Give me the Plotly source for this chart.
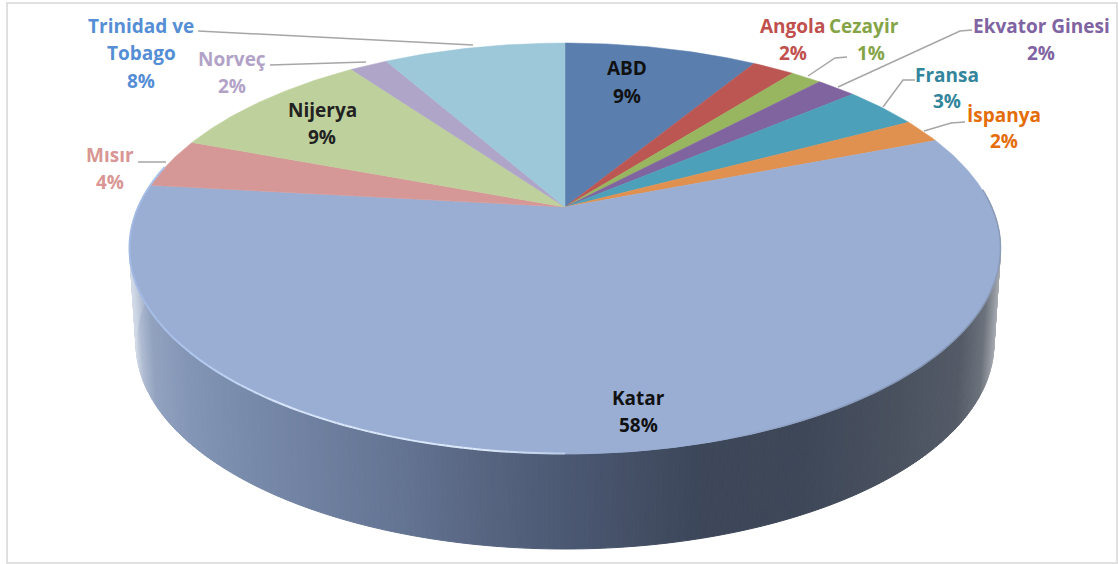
import numpy as np
import plotly.graph_objects as go

# ---- data ----
categories = ["ABD", "Angola", "Cezayir", "Ekvator Ginesi", "Fransa", "İspanya",
              "Katar", "Mısır", "Nijerya", "Norveç", "Trinidad ve Tobago"]
shares = [8.7, 1.9, 1.4, 1.8, 3.4, 1.9, 57.7, 3.9, 9.4, 1.7, 8.2]
slice_colors = ["#5a7fae", "#bb5652", "#98b660", "#80649f", "#4ca0b9", "#e1914f",
                "#9aaed3", "#d69896", "#bed19c", "#afa5c8", "#9cc8d9"]
label_colors = ["#111111", "#c0504d", "#84a447", "#7f63a2", "#31859c", "#e46c0a",
                "#111111", "#d99694", "#222222", "#b2a2c7", "#558ed5"]

# ---- label layout: text lines centred at pixel positions ----
label_pos = {
    "ABD": [("ABD", 627, 68), ("%", 627, 96)],
    "Angola": [("Angola", 792, 26), ("%", 793, 53)],
    "Cezayir": [("Cezayir", 864, 26), ("%", 871, 53)],
    "Ekvator Ginesi": [("Ekvator Ginesi", 1041, 26), ("%", 1041, 53)],
    "Fransa": [("Fransa", 947, 75), ("%", 947, 101)],
    "İspanya": [("İspanya", 1004, 115), ("%", 1004, 141)],
    "Katar": [("Katar", 638, 398), ("%", 638, 425)],
    "Mısır": [("Mısır", 110, 155), ("%", 110, 182)],
    "Nijerya": [("Nijerya", 322, 110), ("%", 322, 137)],
    "Norveç": [("Norveç", 232, 59), ("%", 232, 86)],
    "Trinidad ve Tobago": [("Trinidad ve", 141, 26), ("Tobago", 141, 53), ("%", 141, 81)],
}
leaders = [
    [(198, 31), (473, 45)],
    [(270, 65), (366, 62)],
    [(138, 162), (166, 162)],
    [(847, 57), (835, 58), (808, 76)],
    [(972, 30), (960, 31), (838, 87)],
    [(915, 80), (903, 80), (883, 107)],
    [(965, 122), (951, 123), (924, 131)],
]

# ---- projection of the tilted disc ----
CX, CY = 565.0, 207.0
A, B, K = 426.5, 197.1, 0.202


def rim(theta):
    u, v = np.sin(theta), np.cos(theta)
    d = 1 + K * v
    return CX + A * u / d, CY - B * v / d


def lower_rim(theta):
    x, y = rim(theta)
    return CX + (x - CX) * 0.985, y + 95


def ramp(stops, x):
    xs = [s[0] for s in stops]
    return "rgb(%d,%d,%d)" % tuple(np.interp(x, xs, [s[1][i] for s in stops]) for i in range(3))


side_stops = [
    (129, (214, 222, 234)), (137, (176, 188, 210)), (150, (146, 163, 192)), (185, (132, 150, 182)),
    (250, (120, 138, 170)), (400, (100, 116, 147)), (480, (88, 102, 130)), (565, (76, 89, 115)),
    (700, (61, 71, 90)), (800, (62, 71, 88)), (900, (74, 82, 96)), (960, (84, 91, 103)),
    (985, (108, 114, 124)), (1000, (170, 174, 180)),
]
highlight_stops = [
    (129, (160, 184, 226)), (200, (178, 202, 240)), (280, (215, 229, 250)), (480, (222, 234, 250)),
    (560, (188, 206, 234)), (640, (155, 174, 212)),
]
right_edge_stops = [
    (700, (154, 174, 211)), (850, (140, 158, 190)), (950, (130, 148, 178)), (1000, (140, 156, 184)),
]

fig = go.Figure()

# side wall of the largest slice (front half of the disc)
edges = np.radians(np.linspace(-93, 93, 301) + 180)
for a, b in zip(edges[:-1], edges[1:]):
    x0, y0 = rim(a)
    x1, y1 = rim(b)
    x2, y2 = lower_rim(b)
    x3, y3 = lower_rim(a)
    col = ramp(side_stops, (x0 + x1) / 2)
    fig.add_trace(go.Scatter(x=[x0, x1, x2, x3, x0], y=[y0, y1, y2, y3, y0], mode="lines",
                             fill="toself", fillcolor=col, line=dict(color=col, width=1),
                             hoverinfo="skip", showlegend=False))

# top face slices
total = sum(shares)
start = 0.0
for name, val, col in zip(categories, shares, slice_colors):
    t0 = start / total * 2 * np.pi
    start += val
    t1 = start / total * 2 * np.pi
    th = np.linspace(t0, t1, max(3, int(val * 6)))
    xr, yr = rim(th)
    fig.add_trace(go.Scatter(x=[CX, *xr, CX], y=[CY, *yr, CY], mode="lines", fill="toself",
                             fillcolor=col, line=dict(color=col, width=0.5), name=name,
                             hoverinfo="name", showlegend=False))

# soft darker edge along the front right rim
dark = np.radians(np.linspace(85, 180, 96))
for a, b in zip(dark[:-1], dark[1:]):
    x0, y0 = rim(a)
    x1, y1 = rim(b)
    fig.add_trace(go.Scatter(x=[x0, x1], y=[y0 - 0.5, y1 - 0.5], mode="lines",
                             line=dict(color=ramp(right_edge_stops, (x0 + x1) / 2), width=1.5),
                             hoverinfo="skip", showlegend=False))

# light bevel along the front left rim
bevel = np.radians(np.linspace(180, 282, 103))
for a, b in zip(bevel[:-1], bevel[1:]):
    x0, y0 = rim(a)
    x1, y1 = rim(b)
    fig.add_trace(go.Scatter(x=[x0, x1], y=[y0 - 0.5, y1 - 0.5], mode="lines",
                             line=dict(color=ramp(highlight_stops, (x0 + x1) / 2), width=2),
                             hoverinfo="skip", showlegend=False))

# leader lines and frame
shapes = [dict(type="rect", xref="x", yref="y", x0=7, y0=3, x1=1117, y1=563,
               line=dict(color="#e0e0e0", width=2))]
for pts in leaders:
    path = "M " + " L ".join(f"{x},{y}" for x, y in pts)
    shapes.append(dict(type="path", xref="x", yref="y", path=path,
                       line=dict(color="#a6a6a6", width=1.5)))

# labels
annotations = []
for name, val, col in zip(categories, shares, label_colors):
    pct = f"{round(val / total * 100)}%"
    for text, x, y in label_pos[name]:
        annotations.append(dict(x=x, y=y, xref="x", yref="y", showarrow=False,
                                text=pct if text == "%" else text,
                                xanchor="center", yanchor="middle",
                                font=dict(family="Open Sans", size=19, color=col, weight="bold")))

fig.update_layout(
    width=1118, height=564, margin=dict(l=0, r=0, t=0, b=0),
    paper_bgcolor="white", plot_bgcolor="white", showlegend=False,
    xaxis=dict(range=[0, 1118], visible=False, fixedrange=True),
    yaxis=dict(range=[564, 0], visible=False, fixedrange=True),
    shapes=shapes, annotations=annotations,
)
fig.write_html("out.html", config=dict(displayModeBar=False),
               post_script="document.body.style.margin='0';document.body.style.overflow='hidden';")
